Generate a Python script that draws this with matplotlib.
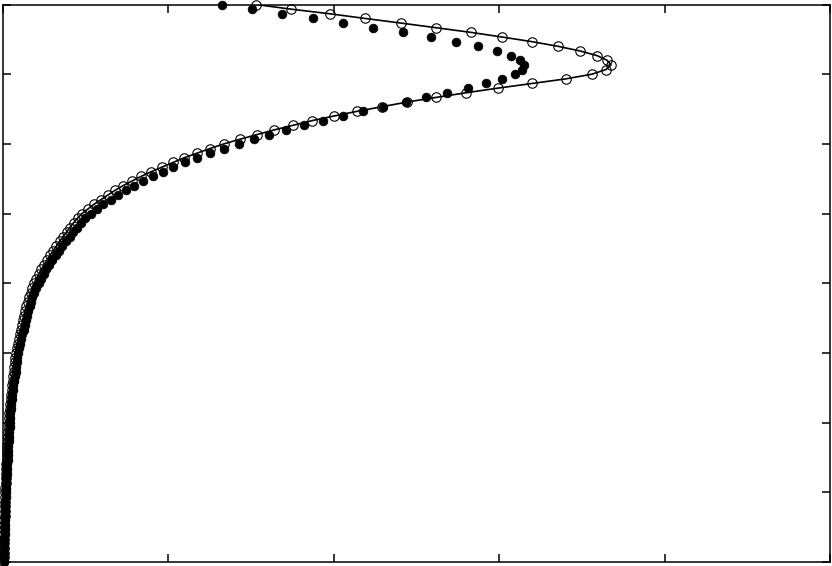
import numpy as np
import matplotlib
matplotlib.use('Agg')
import matplotlib.pyplot as plt

# grid of heights (121 equally spaced levels, 0 .. 8)
eta = np.linspace(0, 8, 121)

# open circles (and solid line)
u_open = [
    0.0006, 0.0007, 0.0008, 0.0010, 0.0011, 0.0012, 0.0013, 0.0015, 0.0016, 0.0017,
    0.0019, 0.0022, 0.0023, 0.0024, 0.0027, 0.0029, 0.0030, 0.0033, 0.0035, 0.0037,
    0.0040, 0.0042, 0.0045, 0.0047, 0.0050, 0.0052, 0.0056, 0.0059, 0.0063, 0.0067,
    0.0070, 0.0074, 0.0077, 0.0082, 0.0087, 0.0092, 0.0097, 0.0103, 0.0109, 0.0115,
    0.0121, 0.0128, 0.0135, 0.0143, 0.0151, 0.0160, 0.0169, 0.0179, 0.0190, 0.0201,
    0.0213, 0.0225, 0.0238, 0.0252, 0.0266, 0.0282, 0.0297, 0.0314, 0.0333, 0.0352,
    0.0375, 0.0403, 0.0433, 0.0464, 0.0497, 0.0532, 0.0568, 0.0606, 0.0645, 0.0684,
    0.0726, 0.0768, 0.0810, 0.0853, 0.0901, 0.0955, 0.1028, 0.1100, 0.1185, 0.1270,
    0.1354, 0.1451, 0.1560, 0.1669, 0.1790, 0.1923, 0.2056, 0.2189, 0.2346, 0.2503,
    0.2672, 0.2866, 0.3071, 0.3277, 0.3507, 0.3736, 0.4002, 0.4281, 0.4583, 0.4885,
    0.5236, 0.5599, 0.5985, 0.6397, 0.6808, 0.7122, 0.7291, 0.7352, 0.7304, 0.7183,
    0.6977, 0.6711, 0.6397, 0.6034, 0.5659, 0.5236, 0.4813, 0.4377, 0.3954, 0.3482,
    0.3059,
]

# filled circles
u_filled = [
    0.0012, 0.0013, 0.0014, 0.0016, 0.0017, 0.0018, 0.0019, 0.0021, 0.0022, 0.0023,
    0.0025, 0.0028, 0.0029, 0.0030, 0.0033, 0.0035, 0.0036, 0.0039, 0.0041, 0.0043,
    0.0052, 0.0054, 0.0057, 0.0059, 0.0062, 0.0064, 0.0068, 0.0071, 0.0075, 0.0079,
    0.0082, 0.0086, 0.0089, 0.0094, 0.0099, 0.0104, 0.0109, 0.0115, 0.0121, 0.0127,
    0.0145, 0.0152, 0.0159, 0.0167, 0.0175, 0.0184, 0.0193, 0.0203, 0.0214, 0.0225,
    0.0255, 0.0267, 0.0280, 0.0294, 0.0308, 0.0324, 0.0339, 0.0356, 0.0375, 0.0400,
    0.0430, 0.0460, 0.0492, 0.0525, 0.0560, 0.0597, 0.0636, 0.0676, 0.0718, 0.0761,
    0.0806, 0.0852, 0.0899, 0.0947, 0.0997, 0.1064, 0.1137, 0.1209, 0.1306, 0.1391,
    0.1487, 0.1584, 0.1693, 0.1814, 0.1935, 0.2056, 0.2201, 0.2346, 0.2503, 0.2672,
    0.2854, 0.3035, 0.3216, 0.3422, 0.3640, 0.3869, 0.4111, 0.4353, 0.4595, 0.4873,
    0.5115, 0.5369, 0.5623, 0.5840, 0.6034, 0.6191, 0.6276, 0.6300, 0.6252, 0.6143,
    0.5974, 0.5744, 0.5478, 0.5175, 0.4837, 0.4474, 0.4111, 0.3748, 0.3374, 0.3011,
    0.2648,
]

fig = plt.figure(figsize=(8.32, 5.66), dpi=100)
ax = fig.add_axes([3/832, 4/566, 827/832, 557.5/566])

ax.plot(u_open, eta, 'o', ms=6.8, mfc='none', mec='black', mew=0.8, clip_on=False, zorder=2)
ax.plot(u_open, eta, '-', color='black', lw=1.2, zorder=3)
ax.plot(u_filled, eta, 'o', ms=6.3, mfc='black', mec='black', mew=0.5, clip_on=False, zorder=4)

ax.set_xlim(0, 1)
ax.set_ylim(0, 8)
ax.set_xticks(np.arange(0, 1.01, 0.2))
ax.set_yticks(np.arange(0, 8.1, 1))
ax.tick_params(direction='in', length=6, width=1.1, top=True, right=True,
               labelbottom=False, labelleft=False)
for s in ax.spines.values():
    s.set_linewidth(1.1)

fig.savefig('out.png', dpi=100)
